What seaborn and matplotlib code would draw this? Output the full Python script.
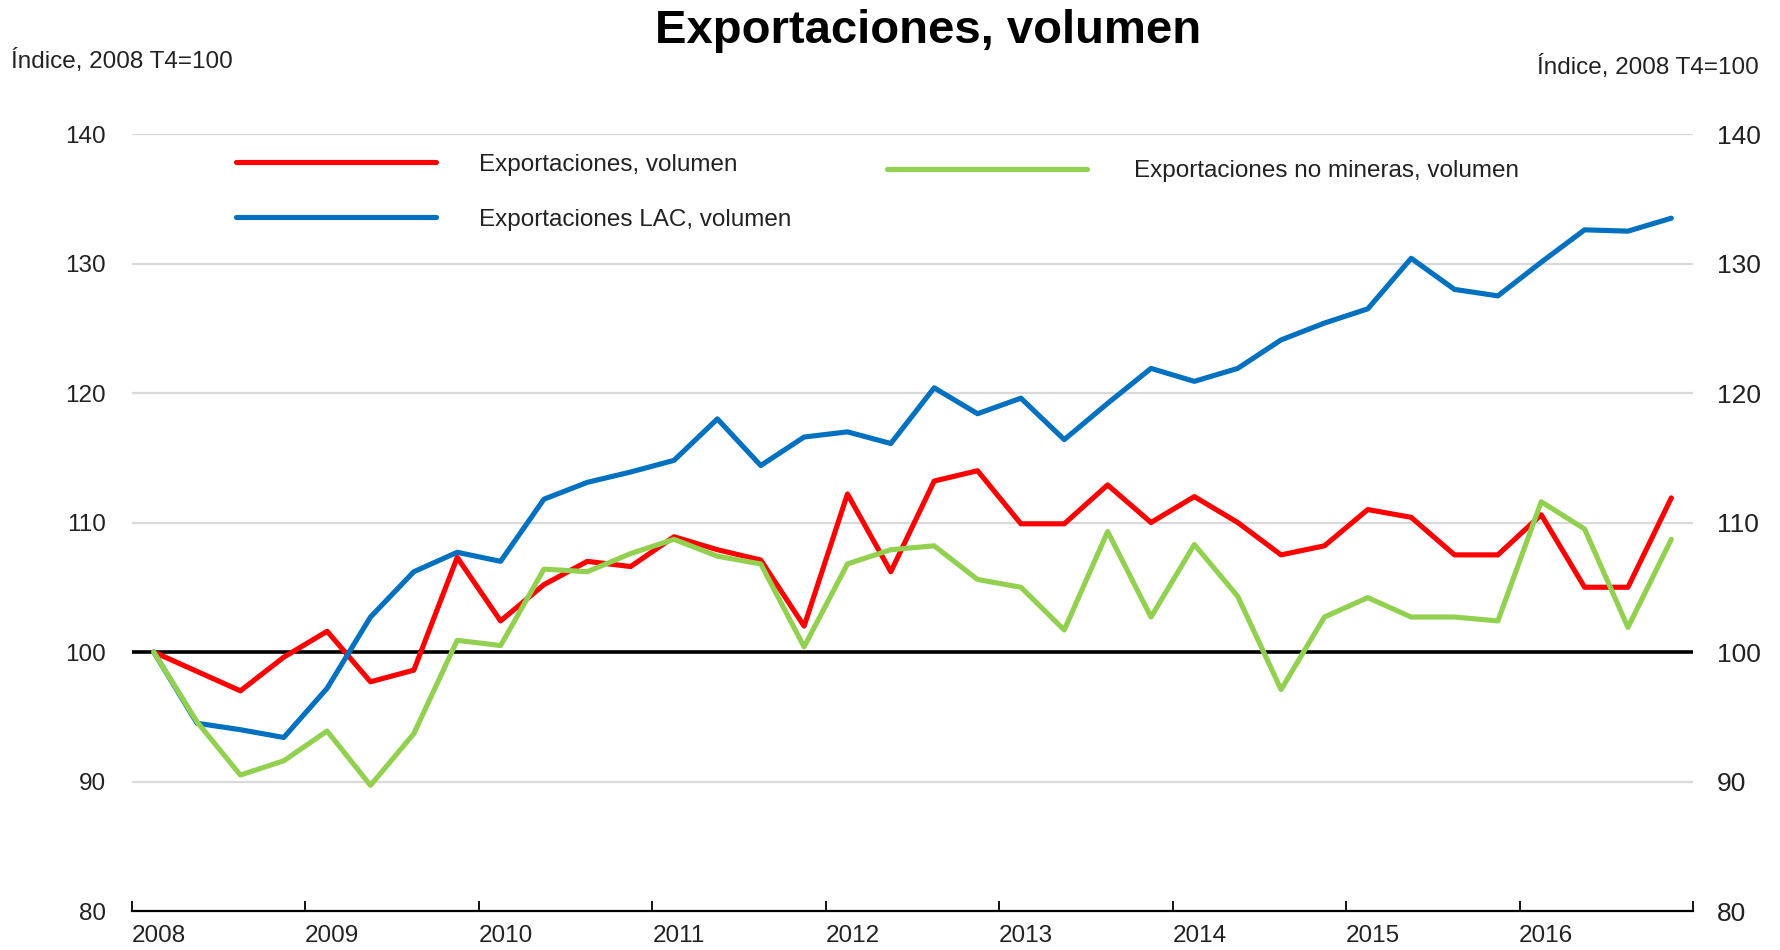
import numpy as np
import pandas as pd
import matplotlib
matplotlib.use("Agg")
import matplotlib.pyplot as plt
import matplotlib.transforms as mtransforms
from matplotlib import font_manager
import seaborn as sns

# ---------------- data ----------------
quarters = [f"{y}T{q}" for y, q in
            [(2008, 4)] + [(y, q) for y in range(2009, 2017) for q in (1, 2, 3, 4)] + [(2017, 1), (2017, 2), (2017, 3)]]
year_labels = ["2008", "2009", "2010", "2011", "2012", "2013", "2014", "2015", "2016"]

export_vol = [100, 98.5, 97.0, 99.6, 101.6, 97.7, 98.6, 107.3, 102.4, 105.2,
              107.0, 106.6, 108.9, 107.9, 107.1, 102.0, 112.2, 106.2, 113.2, 114.0,
              109.9, 109.9, 112.9, 110.0, 112.0, 110.0, 107.5, 108.2, 111.0, 110.4,
              107.5, 107.5, 110.6, 105.0, 105.0, 111.9]
export_lac = [100, 94.5, 94.0, 93.4, 97.2, 102.7, 106.2, 107.7, 107.0, 111.8,
              113.1, 113.9, 114.8, 118.0, 114.4, 116.6, 117.0, 116.1, 120.4, 118.4,
              119.6, 116.4, 119.2, 121.9, 120.9, 121.9, 124.1, 125.4, 126.5, 130.4,
              128.0, 127.5, 130.1, 132.6, 132.5, 133.5]
export_nomin = [100, 94.6, 90.5, 91.6, 93.9, 89.7, 93.7, 100.9, 100.5, 106.4,
                106.2, 107.6, 108.7, 107.4, 106.8, 100.4, 106.8, 107.9, 108.2, 105.6,
                105.0, 101.7, 109.3, 102.7, 108.3, 104.3, 97.1, 102.7, 104.2, 102.7,
                102.7, 102.4, 111.6, 109.5, 101.9, 108.7]

series_names = ["Exportaciones, volumen", "Exportaciones LAC, volumen",
                "Exportaciones no mineras, volumen"]
series_colors = ["#FF0000", "#0070C0", "#92D050"]
y_ticks = [80, 90, 100, 110, 120, 130, 140]

# ---------------- style ----------------
sns.set_theme(style="white")
plt.rcParams["font.family"] = ["Liberation Sans", "DejaVu Sans"]

try:
    font_manager.findfont(font_manager.FontProperties(family="Liberation Sans Narrow"),
                          fallback_to_default=False)
    NARROW = ["Liberation Sans Narrow", "Liberation Sans", "DejaVu Sans"]
    FSN = 20.5       # narrow text size
    FSN_TICK = 20.0
except Exception:
    NARROW = ["Liberation Sans", "DejaVu Sans"]
    FSN = 17.5
    FSN_TICK = 17.5
REG = ["Liberation Sans", "DejaVu Sans"]
TXT = "#222222"
px_per_pt = 100 / 72.0

fig = plt.figure(figsize=(17.81, 9.5), dpi=100)
ax = fig.add_axes([0.07412, 0.04105, 0.87647, 0.81789])

idx = np.arange(len(quarters))
frames = []
for name, vals in zip(series_names, [export_vol, export_lac, export_nomin]):
    frames.append(pd.DataFrame({"idx": idx, "quarter": quarters, "value": vals, "serie": name}))
df = pd.concat(frames, ignore_index=True)

# gridlines & 100 reference line
ax.set_ylim(80, 140)
ax.set_yticks(y_ticks)
ax.yaxis.grid(True, color="#D9D9D9", linewidth=1.6, zorder=0)
ax.xaxis.grid(False)
ax.axhline(100, color="black", linewidth=2.6, zorder=1)

for name, col in zip(series_names, series_colors):
    sns.lineplot(data=df[df["serie"] == name], x="idx", y="value", color=col,
                 linewidth=3.7, label=name, ax=ax, sort=False, zorder=3, legend=False)

ax.set_xlim(-0.5, len(quarters) - 0.5)
ax.set_xlabel("")
ax.set_ylabel("")

for s in ["left", "right", "top"]:
    ax.spines[s].set_visible(False)
ax.spines["bottom"].set_color("black")
ax.spines["bottom"].set_linewidth(1.6)

# x ticks: boundaries every 4 quarters, labels at year positions
ax.set_xticks(np.arange(-0.5, len(quarters), 4))
ax.set_xticklabels([])
ax.tick_params(axis="x", which="major", direction="in", length=7, width=1.3,
               color="black", bottom=True)
ax.set_xticks(np.arange(0, len(quarters), 4)[:len(year_labels)], minor=True)
ax.set_xticklabels(year_labels, minor=True, fontsize=FSN_TICK, color=TXT, family=NARROW)
ax.tick_params(axis="x", which="minor", length=0, pad=10)
offset = mtransforms.ScaledTranslation(5 / 100, 0, fig.dpi_scale_trans)
for lab in ax.xaxis.get_minorticklabels():
    lab.set_transform(lab.get_transform() + offset)

# y ticks left
ax.set_yticklabels([str(t) for t in y_ticks], fontsize=FSN_TICK, color=TXT, family=NARROW)
ax.tick_params(axis="y", length=0, pad=19)

# right axis
ax2 = ax.twinx()
ax2.set_ylim(80, 140)
ax2.set_yticks(y_ticks)
ax2.set_yticklabels([str(t) for t in y_ticks], fontsize=19, color=TXT, family=REG)
ax2.tick_params(axis="y", length=0, pad=17)
ax2.grid(False)
for s in ax2.spines.values():
    s.set_visible(False)

# legends
handles = {l.get_label(): l for l in ax.get_lines() if l.get_label() in series_names}
fs_px = FSN * px_per_pt
row_h = 0.93 * fs_px
leg1 = ax.legend([handles[series_names[0]], handles[series_names[1]]],
                 series_names[:2], loc="center left", bbox_to_anchor=(0.0666, 0.925),
                 frameon=False, prop={"family": NARROW, "size": FSN},
                 handlelength=200 / fs_px, handletextpad=43 / fs_px,
                 labelspacing=(56 - row_h) / fs_px, borderpad=0, borderaxespad=0)
for t in leg1.get_texts():
    t.set_color(TXT)
ax.add_artist(leg1)
fs2_px = 17.5 * px_per_pt
leg2 = ax.legend([handles[series_names[2]]], [series_names[2]], loc="center left",
                 bbox_to_anchor=(0.4837, 0.952), frameon=False,
                 prop={"family": REG, "size": 17.5},
                 handlelength=200 / fs2_px, handletextpad=47 / fs2_px,
                 borderpad=0, borderaxespad=0)
for t in leg2.get_texts():
    t.set_color(TXT)

# titles / unit labels
fig.text(0.521, 0.9547, "Exportaciones, volumen", ha="center", va="baseline",
         fontsize=34, fontweight="bold", color="black", family=REG)
fig.text(11 / 1781, 0.9284, "Índice, 2008 T4=100", ha="left", va="baseline",
         fontsize=FSN, color=TXT, family=NARROW)
fig.text(1759 / 1781, 0.922, "Índice, 2008 T4=100", ha="right", va="baseline",
         fontsize=FSN, color=TXT, family=NARROW)

fig.savefig("out.png", dpi=100)
